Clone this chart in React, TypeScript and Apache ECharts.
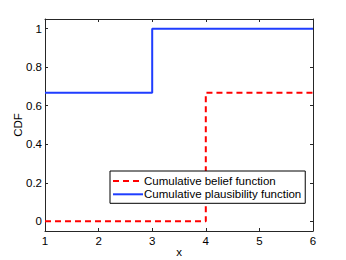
import React, { useEffect, useRef } from "react";
import * as echarts from "echarts";

const beliefData: [number, number][] = [[1, 0], [4, 0.667], [6, 0.667]];
const plausibilityData: [number, number][] = [[1, 0.667], [3, 1], [6, 1]];
const yTicks = [0, 0.2, 0.4, 0.6, 0.8, 1];
const seriesNames = ["Cumulative belief function", "Cumulative plausibility function"];

export default function App() {
  const ref = useRef<HTMLDivElement>(null);
  useEffect(() => {
    if (!ref.current) return;
    const chart = echarts.init(ref.current, null, { renderer: "svg" });
    const font = "Liberation Sans, Arial, sans-serif";
    const lineC = "#262626";
    const axisCommon = {
      axisLine: { show: true, onZero: false, lineStyle: { color: lineC, width: 1 } },
      splitLine: { show: false },
    };
    chart.setOption({
      animation: false,
      backgroundColor: "#fff",
      textStyle: { fontFamily: font },
      grid: { left: 45, right: 33, top: 19, bottom: 29, containLabel: false, outerBoundsMode: "none" },
      legend: {
        data: seriesNames,
        orient: "vertical",
        left: 110,
        top: 171,
        itemWidth: 30,
        itemHeight: 12,
        itemGap: 1.3,
        padding: [4, 4, 3, 2],
        borderColor: "#000",
        borderWidth: 1,
        backgroundColor: "#fff",
        itemStyle: { opacity: 0 },
        textStyle: { fontSize: 11.5, lineHeight: 12, color: "#000", fontFamily: font, padding: [0, 0, 0, -4] },
      },
      xAxis: [
        {
          type: "value",
          min: 1,
          max: 6,
          interval: 1,
          position: "bottom",
          name: "x",
          nameLocation: "middle",
          nameGap: 15,
          nameMoveOverlap: false,
          nameTextStyle: { fontSize: 11.5, color: "#000" },
          ...axisCommon,
          axisTick: { show: true, inside: true, length: 3, lineStyle: { color: lineC } },
          axisLabel: { fontSize: 11.5, color: "#000", margin: 4 },
        },
        {
          type: "value",
          min: 1,
          max: 6,
          interval: 1,
          position: "top",
          ...axisCommon,
          axisTick: { show: true, inside: true, length: 3, lineStyle: { color: lineC } },
          axisLabel: { show: false },
        },
      ],
      yAxis: [
        {
          type: "value",
          min: -0.05,
          max: 1.05,
          position: "left",
          name: "CDF",
          nameLocation: "middle",
          nameGap: 21,
          nameMoveOverlap: false,
          nameTextStyle: { fontSize: 11.5, color: "#000" },
          ...axisCommon,
          axisTick: { show: true, inside: true, length: 3, customValues: yTicks, lineStyle: { color: lineC } },
          axisLabel: {
            fontSize: 11.5,
            color: "#000",
            margin: 3,
            customValues: yTicks,
            formatter: (v: number) => String(Math.round(v * 10) / 10),
          },
        },
        {
          type: "value",
          min: -0.05,
          max: 1.05,
          position: "right",
          ...axisCommon,
          axisTick: { show: true, inside: true, length: 3, customValues: yTicks, lineStyle: { color: lineC } },
          axisLabel: { show: false, customValues: yTicks },
        },
      ],
      series: [
        {
          name: seriesNames[0],
          type: "line",
          step: "end",
          data: beliefData,
          symbol: "none",
          lineStyle: { color: "#ff0000", width: 2, type: [6, 4] },
          itemStyle: { color: "#ff0000" },
          z: 2,
        },
        {
          name: seriesNames[1],
          type: "line",
          step: "end",
          data: plausibilityData,
          symbol: "none",
          lineStyle: { color: "#1f3dff", width: 2 },
          itemStyle: { color: "#1f3dff" },
          z: 3,
        },
      ],
    });
    return () => chart.dispose();
  }, []);
  return <div ref={ref} style={{ width: 346, height: 260, position: "absolute", left: 0, top: 0 }} />;
}
